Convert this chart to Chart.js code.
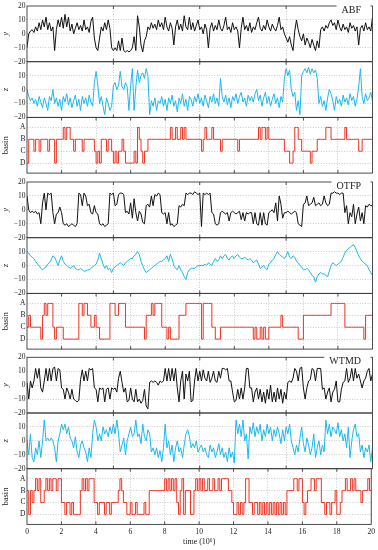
<!DOCTYPE html>
<html><head><meta charset="utf-8">
<script src="https://cdn.jsdelivr.net/npm/chart.js@4.4.1/dist/chart.umd.min.js"></script>
<style>
html,body{margin:0;padding:0;background:#fff;}
#wrap{position:relative;width:378px;height:550px;overflow:hidden;background:#fff;}
#wrap canvas{position:absolute;left:0;}
</style></head><body><div id="wrap"></div>
<script>
// ---------- data ----------
const timeStep = 0.1;            // sampling of the series, in units of 10^6
const methods = ['ABF', 'OTFP', 'WTMD'];
const basinLabels = ['D', 'C', 'B', 'A'];   // level 1..4
const yTickValues = [-20, -10, 0, 10, 20];
const xLabelStep = 2;

const abfY = [
-10,0,2,3,1,5,2,8,3,10, 5,12,3,8,2,5,-12,3,10,5, 12,4,14,5,12,2,7,0,4,8, 3,6,2,10,3,5,1,9,12,-3,
-10,-12,-3,5,2,8,3,10,4,-10, -12,-10,-12,-5,-12,-3,-12,-13,-12,-13, -12,-10,-2,-12,13,5,-8,-13,-5,-2,
5,3,8,4,7,3,10,5,8,3, 12,5,2,8,4,-8,5,10,3,7, 2,13,5,3,12,3,8,2,6,10, 3,5,0,7,3,-10,4,8,2,6,
3,10,4,2,6,12,3,5,1,8, 3,5,2,-10,4,12,3,6,2,8, 1,5,3,8,12,4,2,6,3,10, 5,2,7,4,2,6,12,3,5,0,
-3,-6,-2,-8,-12,2,10,3,-2,-5, 0,-8,-3,-6,-10,-4,-8,-12,-5,-10, 3,5,2,6,4,8,10,6,8,3, 10,5,2,7,3,5,1,8,4,6,
2,5,-8,4,6,2,8,3,5,2, 12];
const abfZ = [
0,-5,-8,-6,-10,-7,-12,-5,-9,-13, -6,-10,-15,-5,-8,0,-10,-6,-12,-7, -15,-5,-9,-3,-11,-6,-13,-8,-4,-12, -7,-15,-5,-10,-6,-12,-4,-9,-12,5,
13,3,-10,-5,-12,-18,-6,-10,-15,-12, 3,5,0,3,13,2,0,5,2,-15, 3,15,-15,2,14,5,10,12,8,15, 10,-18,-8,-12,-6,-15,-8,-10,-5,-12,
-7,-15,-6,-10,-4,-12,-8,-16,-6,-10, -3,-12,-7,-15,-5,-7,-12,-5,-9,-3, -10,-6,-12,-4,-8,-13,-5,-9,-3,-10, -6,-12,8,-5,-9,-4,-11,-6,-13,-5,
-8,-3,-10,-5,-2,-9,-6,-12,-4,-8, -5,-9,-3,0,-8,-4,-12,-6,-2,-10, -5,-12,-7,-3,-10,-6,-13,-5,-9,8, 15,10,14,0,-5,-2,-15,-8,-18,10,
13,15,12,16,11,15,12,14,8,-10, -5,-12,-8,-15,-6,0,-3,-8,-15,-5, -10,-7,-12,-4,-9,-6,-11,-3,-8,-5, -12,-7,2,15,-5,-10,-3,-8,-6,-2,
-8];
const abfBasin = [
1,3,3,3,2,3,3,2,3,3, 3,3,2,3,3,3,1,3,3,3, 3,4,3,4,4,3,3,2,3,3, 3,3,2,3,3,3,3,3,3,2,
1,2,1,3,3,3,2,3,3,2, 1,2,1,2,2,3,2,1,1,1, 1,1,2,1,4,3,2,1,2,2, 3,3,3,3,3,3,3,3,3,3,
3,3,3,4,3,3,4,3,3,4, 3,4,3,3,3,3,3,3,3,3, 3,2,3,4,3,3,3,4,3,3, 3,3,2,3,3,3,3,3,3,3,
3,3,2,3,3,3,3,3,3,3, 3,3,3,3,4,3,4,4,3,4, 3,3,3,3,3,3,3,3,3,2, 2,2,1,1,2,4,4,3,3,2,
2,2,2,2,1,2,2,2,3,3, 3,3,3,4,4,4,3,3,3,3, 3,3,3,3,4,3,3,3,3,3, 3,3,2,2,3,3,3,3,3,3,
4];

const otfpY = [
10,0,-2,-1,-2,-1,-3,-2,-10,5, 12,0,12,11,12,-2,-10,-3,-2,2, -2,-10,-11,-10,-12,-11,-10,-11,-12,-10, 12,11,3,12,10,3,4,-2,-3,3,
-2,-3,-10,-11,-10,-12,-11,-10,12,11, 12,3,4,11,12,12,11,-2,-1,-3, 5,-6,8,-2,-8,-1,-3,-9,-10,3, 4,2,10,3,11,10,12,11,-2,-3,
-2,-10,-2,-11,-10,-12,-11,-10,3,2, 4,3,12,11,12,12,11,13,12,11, 12,-12,12,11,12,11,12,-2,-3,-10, -11,-10,-2,-1,-2,-3,-2,-8,-2,-1,
-2,-3,-2,-1,-7,-2,-8,-2,-3,-2, -2,-10,-2,-10,-11,-2,-11,-2,-10,-11, -2,-1,0,-2,5,-8,10,4,-6,-2, -2,-1,-2,-3,-2,-1,-2,-10,-11,-12,
4,5,10,3,4,5,9,3,4,5, 3,4,10,5,3,4,12,12,13,12, 12,11,12,12,-2,3,-10,-2,-5,4, -10,-3,2,-8,-2,-10,3,2,4,3,
3];
const otfpZ = [
10,9,7,6,5,3,1,0,-2,-3, -2,-1,1,2,4,7,6,3,0,4, 7,3,1,0,-1,-2,-1,0,-2,-3, -3,-2,-3,-4,-4,-3,-3,-2,-1,0,
1,4,9,5,1,-2,0,-3,-2,-5, -2,-1,0,1,2,1,0,2,3,4, 5,5,7,8,10,8,3,0,-3,-5, -4,-3,-2,-1,0,1,2,3,3,4,
5,7,3,8,5,0,-2,-3,0,-3, -5,-8,-10,-5,-3,-2,-2,-2,-1,0, 0,0,0,1,0,2,1,0,3,5, 3,4,7,5,7,8,5,4,6,7,
5,7,8,6,5,5,6,5,4,5, 4,2,3,4,1,-2,-1,0,-2,-3, 1,2,4,5,8,10,8,7,6,5, 7,10,6,5,7,6,3,2,0,-1,
-3,-3,-2,-3,-5,-7,-8,-12,-8,-6, -5,-6,-6,-7,-8,-4,0,2,1,0, 1,2,3,6,9,11,12,13,14,15, 13,10,7,5,3,2,1,0,-3,-5,
-7];
const otfpBasin = [
2,3,2,2,2,2,2,2,1,3, 4,3,4,4,4,2,1,2,2,2, 2,1,1,1,1,1,1,1,1,1, 4,4,3,4,4,3,3,2,2,3,
2,2,1,1,1,1,1,1,4,4, 4,3,3,4,4,4,4,2,2,2, 2,2,2,2,2,2,2,2,1,3, 3,3,4,3,4,4,4,4,2,2,
2,1,2,1,1,1,1,1,3,3, 3,3,4,4,4,4,4,4,4,4, 4,1,4,4,4,4,4,2,2,1, 1,1,2,2,2,2,2,2,2,2,
2,2,2,2,2,2,2,2,2,2, 2,1,2,1,1,2,1,2,1,1, 2,2,2,2,2,2,2,3,2,2, 2,2,2,2,2,2,2,1,1,1,
3,3,3,3,3,3,3,3,3,3, 3,3,3,3,3,3,4,4,4,4, 4,4,4,4,2,2,2,2,2,2, 2,2,2,2,2,1,3,3,3,3,
2];

const wtmdY = [
2,-10,3,-2,3,12,5,12,-2,-5, 3,12,3,12,3,12,13,3,12,11, -2,-3,-10,-2,-5,-10,-3,-10,-11,-12, -11,4,11,3,10,3,12,11,12,-2,
-3,-12,-2,-3,-2,-12,-3,-2,-10,-2, -3,-2,-5,5,10,2,-5,-2,-12,-11, -2,-10,-12,-3,-12,-10,-13,-11,-3,-15, -17,2,3,2,3,2,0,3,2,3,
12,3,12,3,12,3,12,-2,-12,3, 10,-10,8,3,10,-12,-11,3,12,3, 10,3,11,5,3,10,2,5,10,3, 2,10,5,12,12,11,12,3,3,-5,
-12,-11,-3,-10,-2,-10,-2,12,12,-2, -2,-12,-5,-2,-10,-3,-12,-5,-13,-3, -10,0,-12,-5,-12,-2,-10,-3,-13,-5, -10,2,3,2,5,12,10,3,12,13,
-2,-10,-2,3,4,12,11,3,12,12, 12,-3,-2,-10,-5,-2,-12,-5,-3,3, -12,-12,-3,2,3,12,2,5,12,3, 12,5,8,3,-2,3,5,10,12,3,
8];
const wtmdZ = [
0,-10,5,-12,-15,-5,-10,0,-12,0, 15,0,2,0,2,0,-5,-15,0,5, 12,8,12,5,10,2,0,-5,3,-8, -12,-3,0,-5,-8,-15,-5,-12,5,15,
10,0,5,0,10,5,8,3,10,5, 12,5,15,5,-8,-3,2,-10,0,5, 10,3,5,15,3,5,-2,12,3,0, 8,5,-8,-5,-10,-5,-12,-7,-15,-5,
12,-5,0,-10,-3,-15,-5,0,-8,-5, -12,-3,5,8,3,-5,-2,-5,0,-8, -5,-3,-8,-5,-10,-12,-3,-8,-5,-12, -8,-2,-10,-5,-12,-8,-15,-5,-12,-8,
-16,15,5,12,3,15,0,5,-13,10, 5,13,3,10,5,12,0,8,3,12, 5,10,0,8,3,10,5,-2,8,0, 10,5,12,0,-5,-10,-3,-8,2,10,
-2,-8,2,-3,-10,-5,5,-12,-5,0, -10,-3,-8,15,5,12,3,10,8,5, 13,3,8,0,5,-5,10,-12,0,8, 12,3,5,-8,-3,-12,-5,-8,-3,-15,
-5];
const wtmdBasin = [
3,1,3,2,3,4,3,4,2,2, 3,4,3,4,3,4,4,3,4,4, 2,2,1,2,2,1,2,1,1,1, 1,3,4,3,4,3,4,4,4,2,
2,1,2,2,2,1,2,2,1,2, 2,2,2,3,4,3,2,2,1,1, 2,1,1,2,1,1,1,1,2,1, 1,3,3,3,3,3,3,3,3,3,
4,3,4,3,4,3,4,2,1,3, 4,1,3,3,3,1,1,3,4,3, 4,3,4,3,3,4,3,3,4,3, 3,4,3,4,4,4,4,3,3,2,
1,1,2,1,2,1,2,4,4,2, 2,1,2,2,1,2,1,2,1,2, 1,2,1,2,1,2,1,2,1,2, 1,3,3,3,3,4,4,3,4,4,
2,1,2,3,3,4,4,3,4,4, 4,2,2,1,2,2,1,2,2,3, 1,1,2,3,3,4,3,3,4,3, 4,3,3,3,2,3,3,3,4,3,
3];

const seriesByMethod = {
  ABF:  {y: abfY,  z: abfZ,  basin: abfBasin},
  OTFP: {y: otfpY, z: otfpZ, basin: otfpBasin},
  WTMD: {y: wtmdY, z: wtmdZ, basin: wtmdBasin}
};

// ---------- layout / style ----------
const groupTops = [6, 182, 357.3];
const panelH = 55.7;
const PAD = 6;
const FONT = '"Liberation Serif", "Times New Roman", serif';
const TXT = '#222';
const GRID = '#a8a8a8';
const colors = {y: '#111111', z: '#1cb8ee', basin: '#ee3322'};
const widths = {y: 1.0, z: 1.0, basin: 1.0};

const framePlugin = {
  id: 'frame',
  afterDatasetsDraw(chart, args, opts) {
    const {ctx, chartArea: a} = chart;
    ctx.save();
    ctx.strokeStyle = '#3a3a3a';
    ctx.lineWidth = 0.9;
    ctx.strokeRect(a.left, a.top, a.right - a.left, a.bottom - a.top);
    // inward tick marks on the x scale
    const xs = chart.scales.x;
    ctx.beginPath();
    xs.ticks.forEach(t => {
      if (t.value <= xs.min || t.value >= xs.max) return;
      const px = xs.getPixelForValue(t.value);
      ctx.moveTo(px, a.bottom); ctx.lineTo(px, a.bottom - 3);
      ctx.moveTo(px, a.top); ctx.lineTo(px, a.top + 3);
    });
    ctx.stroke();
    // method label box
    if (opts && opts.label) {
      ctx.font = '10px ' + FONT;
      const w = ctx.measureText(opts.label).width;
      const right = a.right - 11.5;
      ctx.fillStyle = '#fff';
      ctx.fillRect(right - w - 5, a.top - PAD, a.right - 2 - (right - w - 5), PAD + 7.5);
      ctx.fillStyle = TXT;
      ctx.textAlign = 'right';
      ctx.textBaseline = 'alphabetic';
      ctx.fillText(opts.label, right, a.top + 6.5);
    }
    ctx.restore();
  }
};

const wrap = document.getElementById('wrap');
const fmt = v => String(v).replace('-', '\u2212');
const times = abfY.map((_, i) => Math.round(i * timeStep * 10) / 10);

methods.forEach((m, g) => {
  ['y', 'z', 'basin'].forEach((kind, r) => {
    const panelTop = groupTops[g] + r * panelH;
    const panelBottom = panelTop + panelH;
    const isBottom = (g === 2 && kind === 'basin');
    const cTop = Math.floor(panelTop) - PAD;
    const cBottom = isBottom ? 550 : Math.ceil(panelBottom) + PAD;
    const cH = cBottom - cTop;
    const cv = document.createElement('canvas');
    cv.width = 378; cv.height = cH;
    cv.style.top = cTop + 'px';
    cv.style.width = '378px'; cv.style.height = cH + 'px';
    wrap.appendChild(cv);

    const vals = seriesByMethod[m][kind];
    const isBasin = kind === 'basin';
    const xAxisH = isBottom ? (550 - panelBottom) : 0;

    const yScale = isBasin ? {
      min: 0.16, max: 4.84,
      afterBuildTicks: s => { s.ticks = basinLabels.map((_, i) => ({value: i + 1})); },
      ticks: {callback: v => basinLabels[v - 1], font: {family: FONT, size: 7.5}, color: TXT, padding: 1.5},
    } : {
      min: -20, max: 20,
      afterBuildTicks: s => { s.ticks = yTickValues.map(v => ({value: v})); },
      ticks: {callback: v => (kind === 'z' && v === 20) ? '' : fmt(v), font: {family: FONT, size: 7.5}, color: TXT, padding: 1.5},
    };
    Object.assign(yScale, {
      afterFit: s => { s.width = 27; },
      grid: {drawTicks: false, lineWidth: 0.6,
        color: c => (c.tick && Math.abs(c.tick.value) === 20) ? 'rgba(0,0,0,0)' : GRID},
      border: {display: false, dash: [1, 1.6]},
      title: {display: true, text: kind, color: TXT,
        font: {family: FONT, size: 8.5, style: isBasin ? 'normal' : 'italic'},
        padding: {top: 1, bottom: 0}}
    });

    new Chart(cv, {
      type: 'line',
      data: {
        datasets: [{
          data: vals.map((v, i) => ({x: times[i], y: v})),
          borderColor: colors[kind],
          borderWidth: widths[kind],
          pointRadius: 0,
          tension: 0,
          stepped: isBasin ? 'before' : false,
          fill: false
        }]
      },
      options: {
        responsive: false,
        animation: false,
        devicePixelRatio: 1,
        events: [],
        layout: {padding: {top: panelTop - cTop, bottom: isBottom ? 0 : (cBottom - panelBottom), left: 0, right: 5.5}},
        plugins: {legend: {display: false}, tooltip: {enabled: false}, title: {display: false},
          frame: {label: kind === 'y' ? m : ''}},
        scales: {
          x: {
            type: 'linear', min: 0, max: 20,
            afterBuildTicks: s => {
              const step = isBasin ? xLabelStep : 5;
              const t = [];
              for (let v = 0; v <= 20; v += step) t.push({value: v});
              s.ticks = t;
            },
            ticks: {display: isBottom, font: {family: FONT, size: 7.5}, color: TXT, padding: 3, maxRotation: 0, autoSkip: false},
            grid: {drawTicks: false, lineWidth: 0.6,
              color: c => (c.tick && (c.tick.value === 0 || c.tick.value === 20)) ? 'rgba(0,0,0,0)' : GRID},
            border: {display: false, dash: [1, 1.6]},
            title: {display: isBottom, text: 'time (10\u2076)', color: TXT,
              font: {family: FONT, size: 8}, padding: {top: 0, bottom: 3.5}},
            afterFit: s => { s.height = xAxisH; }
          },
          y: yScale
        }
      },
      plugins: [framePlugin]
    });
  });
});
</script></body></html>
